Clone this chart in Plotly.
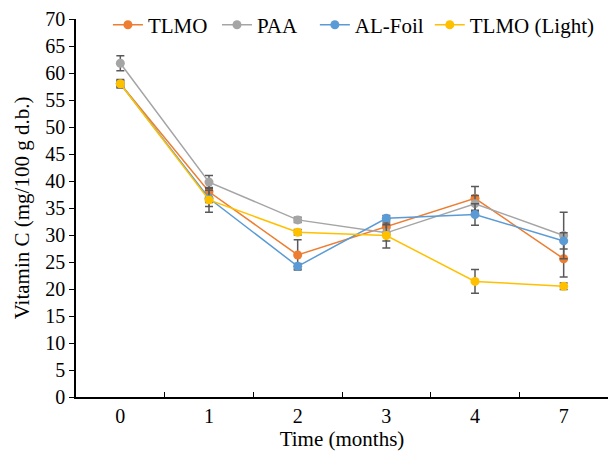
import plotly.graph_objects as go

months = ["0", "1", "2", "3", "4", "7"]
tlmo = [58.0, 38.0, 26.3, 31.5, 36.8, 25.6]
tlmo_err = [0.6, 2.0, 2.8, 1.5, 2.2, 3.4]
paa = [61.8, 39.8, 32.8, 30.4, 35.8, 29.9]
paa_err = [1.4, 1.2, 0.5, 1.5, 1.5, 4.3]
alfoil = [58.0, 36.8, 24.2, 33.1, 33.8, 28.9]
alfoil_err = [0.5, 1.5, 0.5, 0.5, 2.0, 1.5]
tlmo_light = [58.0, 36.5, 30.5, 29.9, 21.4, 20.5]
tlmo_light_err = [0.8, 2.3, 0.5, 2.3, 2.2, 0.6]

series = [
    ("TLMO", tlmo, tlmo_err, "#ED7D31", "legend", 0.060),
    ("PAA", paa, paa_err, "#A5A5A5", "legend2", 0.265),
    ("AL-Foil", alfoil, alfoil_err, "#5B9BD5", "legend3", 0.449),
    ("TLMO (Light)", tlmo_light, tlmo_light_err, "#FFC000", "legend4", 0.665),
]

font = "Liberation Serif, Times New Roman, serif"
fig = go.Figure()
legends = {}
for name, vals, err, col, leg, lx in series:
    fig.add_trace(go.Scatter(
        x=months, y=vals, name=name, mode="lines+markers",
        line=dict(color=col, width=1.5),
        marker=dict(color=col, size=9),
        error_y=dict(type="data", array=err, visible=True,
                     color="#595959", thickness=1.5, width=4),
        legend=leg,
    ))
    legends[leg] = dict(orientation="h", x=lx, y=0.984, yanchor="middle", xanchor="left",
                        bgcolor="rgba(0,0,0,0)", font=dict(family=font, size=21),
                        itemwidth=30)

fig.update_layout(
    width=608, height=452,
    margin=dict(l=76, r=0, t=19, b=55, autoexpand=False),
    paper_bgcolor="white", plot_bgcolor="white",
    font=dict(family=font, size=20, color="black"),
    showlegend=True,
    xaxis=dict(
        type="category", range=[-0.5, 5.5], showline=True, linecolor="black", linewidth=1.5,
        ticks="inside", tickson="boundaries", ticklen=5, tickcolor="black",
        showgrid=False, zeroline=False,
        title=dict(text="Time (months)", font=dict(family=font, size=21), standoff=4),
        tickfont=dict(family=font, size=20),
    ),
    yaxis=dict(
        range=[0, 70], dtick=5, showline=True, linecolor="black", linewidth=1.5,
        ticks="outside", ticklen=5, tickcolor="black",
        showgrid=False, zeroline=False,
        title=dict(text="Vitamin C (mg/100 g d.b.)", font=dict(family=font, size=21), standoff=10),
        tickfont=dict(family=font, size=20),
    ),
    **legends,
)

fig.write_html("out.html", config={"displayModeBar": False},
               post_script="document.body.style.margin='0';")
